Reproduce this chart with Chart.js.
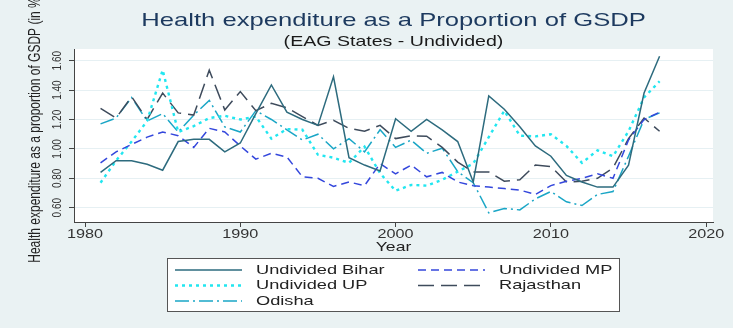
<!DOCTYPE html>
<html>
<head>
<meta charset="utf-8">
<script src="https://cdn.jsdelivr.net/npm/chart.js@4.4.1/dist/chart.umd.min.js"></script>
<style>
html, body { margin: 0; padding: 0; background: #eaf2f3; }
canvas { display: block; }
</style>
</head>
<body>
<canvas id="chart" width="733" height="328"></canvas>
<script>
var years = [1981,1982,1983,1984,1985,1986,1987,1988,1989,1990,
  1991,1992,1993,1994,1995,1996,1997,1998,1999,2000,
  2001,2002,2003,2004,2005,2006,2007,2008,2009,2010,
  2011,2012,2013,2014,2015,2016,2017]

var bihar = [0.84,0.92,0.92,0.895,0.855,1.05,1.065,1.065,0.98,1.04,
  1.24,1.435,1.25,1.20,1.16,1.49,0.94,0.89,0.85,1.205,
  1.12,1.20,1.13,1.05,0.775,1.36,1.27,1.15,1.02,0.95,
  0.82,0.775,0.74,0.74,0.89,1.38,1.63]
var mp = [0.905,0.98,1.03,1.08,1.115,1.09,1.01,1.14,1.115,1.02,
  0.93,0.97,0.945,0.81,0.80,0.745,0.775,0.75,0.90,0.83,
  0.89,0.81,0.84,0.775,0.75,0.74,0.73,0.72,0.69,0.75,
  0.78,0.80,0.83,0.80,1.06,1.20,1.25]
var up = [0.77,0.92,1.05,1.19,1.537,1.115,1.155,1.21,1.225,1.20,
  1.22,1.07,1.135,1.13,0.96,0.94,0.905,1.015,0.835,0.715,
  0.755,0.75,0.79,0.845,0.90,1.08,1.26,1.09,1.085,1.10,
  1.02,0.905,0.99,0.95,1.12,1.35,1.46]
var rajasthan = [1.275,1.21,1.355,1.20,1.38,1.245,1.23,1.536,1.265,1.39,
  1.26,1.31,1.28,1.22,1.16,1.195,1.14,1.12,1.16,1.07,
  1.09,1.086,1.01,0.91,0.843,0.843,0.78,0.79,0.89,0.88,
  0.775,0.78,0.80,0.87,1.07,1.21,1.12]
var odisha = [1.17,1.21,1.35,1.19,1.24,1.115,1.23,1.33,1.15,1.115,
  1.26,1.20,1.13,1.06,1.10,1.00,1.07,0.98,1.13,1.01,
  1.06,0.97,1.005,0.845,0.77,0.565,0.595,0.585,0.66,0.71,
  0.64,0.615,0.69,0.71,0.95,1.20,1.245]

var xTicks = [1980,1990,2000,2010,2020]
var xTickLabels = ['1980','1990','2000','2010','2020']
var yTicks = [0.6,0.8,1.0,1.2,1.4,1.6]
var yTickLabels = ['0.60','0.80','1.00','1.20','1.40','1.60']

var FONT = '"Liberation Sans", Arial, sans-serif'
var SX = 1.35  // reference text is stretched sideways

function pts(vals) {
  return years.map(function (y, i) { return {x: y, y: vals[i]} })
}

function txt(ctx, s, x, y, size, color, align, rotate) {
  ctx.save()
  ctx.translate(x, y)
  ctx.scale(SX, 1)
  if (rotate) ctx.rotate(-Math.PI / 2)
  ctx.font = size + 'px ' + FONT
  ctx.fillStyle = color
  ctx.textAlign = align || 'center'
  ctx.textBaseline = 'middle'
  ctx.fillText(s, 0, 0)
  ctx.restore()
}

var decor = {
  id: 'decor',
  beforeDraw: function (chart) {
    var ctx = chart.ctx, a = chart.chartArea
    ctx.save()
    ctx.fillStyle = '#eaf2f3'
    ctx.fillRect(0, 0, chart.width, chart.height)
    ctx.fillStyle = '#ffffff'
    ctx.fillRect(a.left, a.top, a.right - a.left, a.bottom - a.top)
    ctx.restore()
  },
  afterDraw: function (chart) {
    var ctx = chart.ctx, a = chart.chartArea
    var xs = chart.scales.x, ys = chart.scales.y
    var cx = (a.left + a.right) / 2

    txt(ctx, 'Health expenditure as a Proportion of GSDP', cx, 21, 19, '#1d3a5f')
    txt(ctx, '(EAG States - Undivided)', cx, 42, 14.5, '#1a1a1a')

    yTicks.forEach(function (v, i) {
      txt(ctx, yTickLabels[i], 57, ys.getPixelForValue(v), 10, '#333', 'center', true)
    })
    xTicks.forEach(function (v, i) {
      txt(ctx, xTickLabels[i], xs.getPixelForValue(v), 235, 12, '#333')
    })
    txt(ctx, 'Year', cx, 247, 13, '#222')
    txt(ctx, 'Health expenditure as a proportion of GSDP (in %)', 36, 128, 12, '#222', 'center', true)

    // legend box
    var bx = 167, by = 258, bw = 452, bh = 53
    ctx.save()
    ctx.fillStyle = '#ffffff'
    ctx.fillRect(bx, by, bw, bh)
    ctx.strokeStyle = '#555'
    ctx.lineWidth = 1
    ctx.strokeRect(bx + 0.5, by + 0.5, bw, bh)
    ctx.restore()
    var slots = [[175, 270], [418, 270], [175, 285.5], [418, 285.5], [175, 301]]
    chart.data.datasets.forEach(function (ds, k) {
      var s = slots[k]
      ctx.save()
      ctx.strokeStyle = ds.borderColor
      ctx.lineWidth = ds.borderWidth
      ctx.setLineDash(ds.borderDash || [])
      ctx.beginPath()
      ctx.moveTo(s[0], s[1])
      ctx.lineTo(s[0] + 67, s[1])
      ctx.stroke()
      ctx.restore()
      txt(ctx, ds.label, s[0] + 81, s[1], 13.5, '#222', 'left')
    })
  }
}

var datasets = [
  {label: 'Undivided Bihar', data: pts(bihar), borderColor: '#2d6b7e', borderWidth: 1.5, borderDash: []},
  {label: 'Undivided MP', data: pts(mp), borderColor: '#3447dc', borderWidth: 1.5, borderDash: [8, 5]},
  {label: 'Undivided UP', data: pts(up), borderColor: '#22e6f0', borderWidth: 2.4, borderDash: [3, 4]},
  {label: 'Rajasthan', data: pts(rajasthan), borderColor: '#3e4b5c', borderWidth: 1.5, borderDash: [16, 7]},
  {label: 'Odisha', data: pts(odisha), borderColor: '#1aa6c6', borderWidth: 1.5, borderDash: [14, 4, 2, 4]}
]

new Chart(document.getElementById('chart').getContext('2d'), {
  type: 'line',
  data: {datasets: datasets},
  plugins: [decor],
  options: {
    responsive: false,
    animation: false,
    layout: {padding: {top: 49, right: 20, left: 0, bottom: 0}},
    elements: {point: {radius: 0}, line: {tension: 0, fill: false}},
    plugins: {legend: {display: false}, title: {display: false}, tooltip: {enabled: false}},
    scales: {
      x: {
        type: 'linear', min: 1979.29, max: 2020.44,
        afterBuildTicks: function (s) { s.ticks = xTicks.map(function (v) { return {value: v} }) },
        afterFit: function (s) { s.height = 106 },
        ticks: {display: false},
        grid: {drawOnChartArea: false, drawTicks: true, tickLength: 5, tickColor: '#444'},
        border: {display: true, color: '#444', width: 1}
      },
      y: {
        type: 'linear', min: 0.5027, max: 1.6796,
        afterBuildTicks: function (s) { s.ticks = yTicks.map(function (v) { return {value: v} }) },
        afterFit: function (s) { s.width = 74 },
        ticks: {display: false},
        grid: {color: '#e6f0f3', lineWidth: 1, drawTicks: true, tickLength: 5, tickColor: '#444'},
        border: {display: true, color: '#444', width: 1}
      }
    }
  }
})
</script>
</body>
</html>
